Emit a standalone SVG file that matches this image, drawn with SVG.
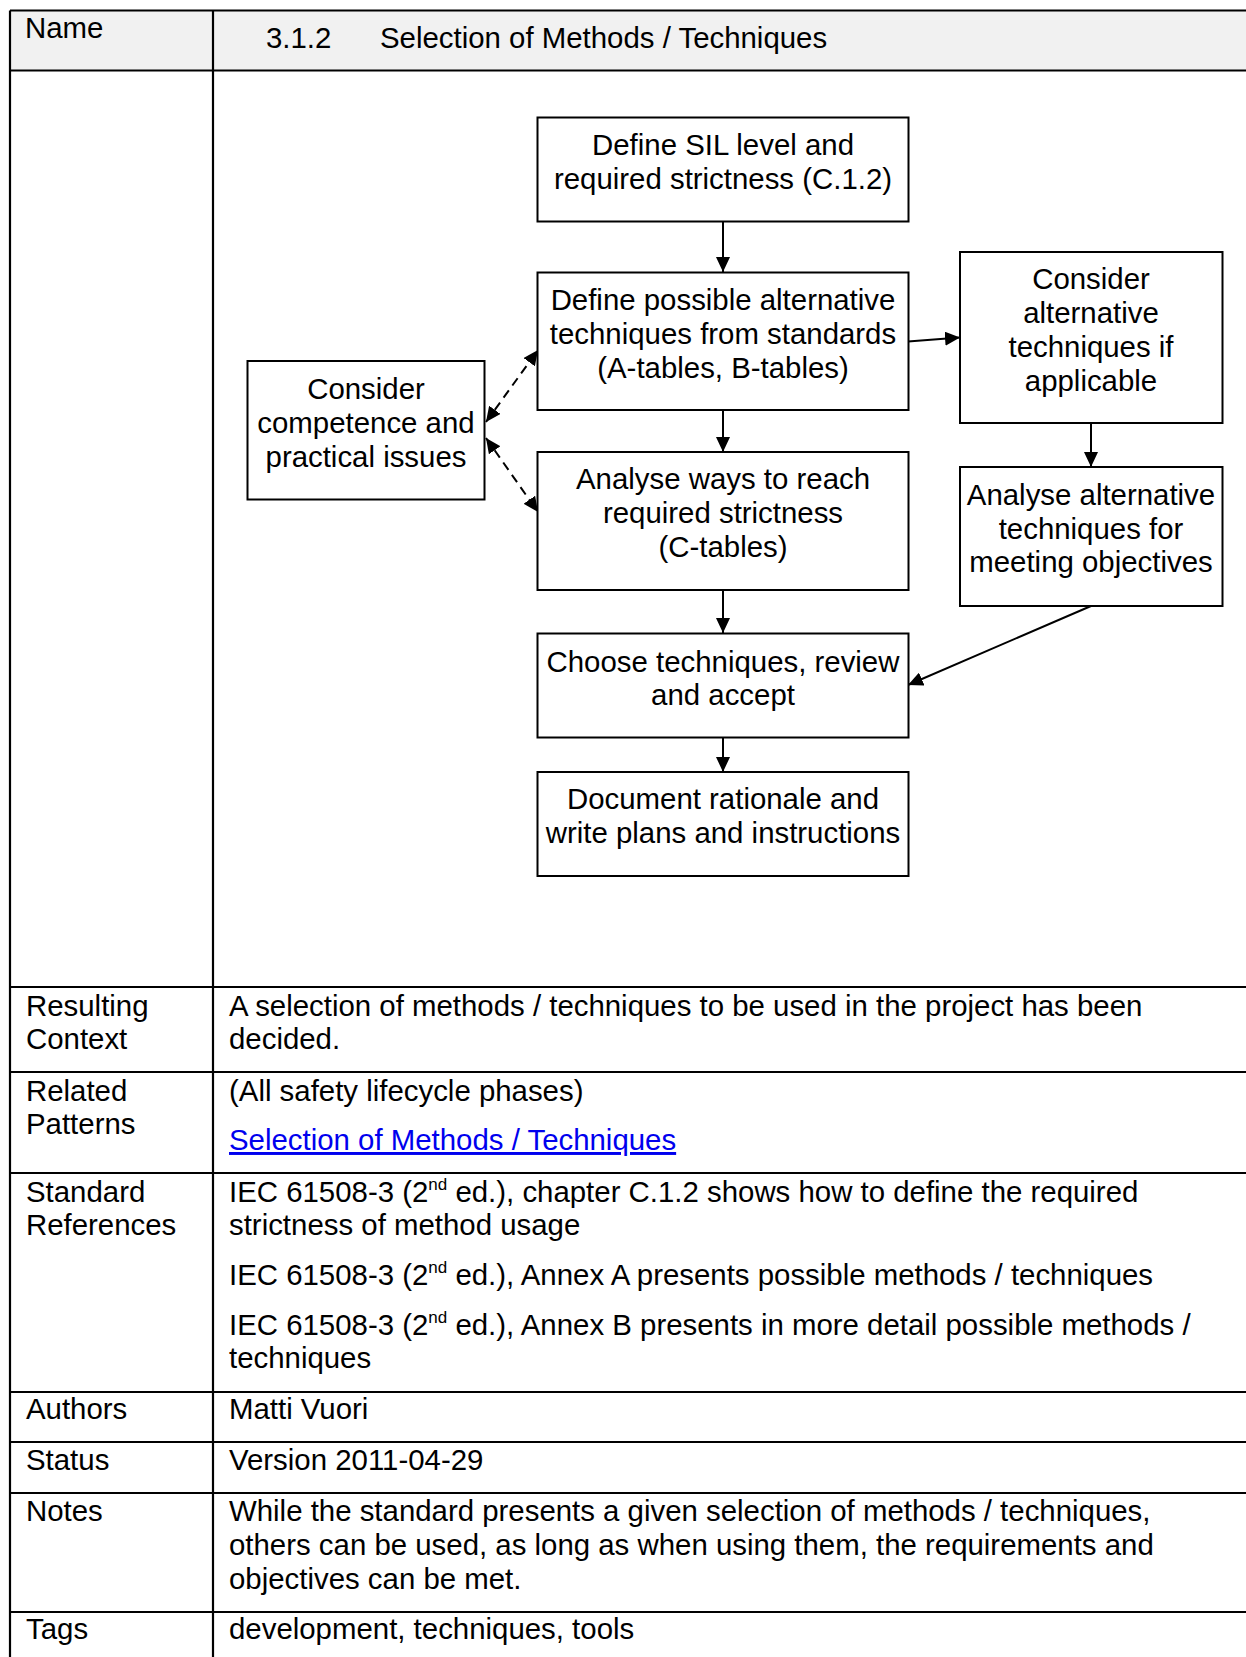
<svg xmlns="http://www.w3.org/2000/svg" width="1246" height="1657" viewBox="0 0 1246 1657">
  <style>
    text { font-family: "Liberation Sans", Arial, sans-serif; font-size: 29.4px; fill: #000; }
    .c { text-anchor: middle; }
    .sup { font-size: 17px; }
    .link { fill: #0000ee; }
    .grid { stroke: #000; stroke-width: 2.2; fill: none; }
    .box { fill: #fff; stroke: #000; stroke-width: 2; }
    .edge { stroke: #000; stroke-width: 2; fill: none; }
    .dash { stroke-dasharray: 9 6; }
  </style>
  <defs>
    <marker id="arrow" viewBox="0 0 15 14" refX="15" refY="7" markerWidth="15" markerHeight="14" markerUnits="userSpaceOnUse" orient="auto-start-reverse">
      <path d="M0,0 L15,7 L0,14 Z" fill="#000"/>
    </marker>
  </defs>

  <rect width="1246" height="1657" fill="#fff"/>

  <!-- table frame -->
  <g id="table">
    <rect x="10" y="10.5" width="1240" height="60" fill="#f1f1f1"/>
    <path class="grid" d="M10,10.5 H1250 M10,70.5 H1250 M10,987 H1250 M10,1072 H1250 M10,1173 H1250 M10,1392 H1250 M10,1442 H1250 M10,1493 H1250 M10,1612 H1250 M10,10.5 V1660 M213,10.5 V1660"/>
  </g>

  <!-- row labels -->
  <g id="labels">
    <text x="25" y="38">Name</text>
    <text x="26" y="1016">Resulting</text>
    <text x="26" y="1049">Context</text>
    <text x="26" y="1101">Related</text>
    <text x="26" y="1134">Patterns</text>
    <text x="26" y="1202">Standard</text>
    <text x="26" y="1235">References</text>
    <text x="26" y="1419">Authors</text>
    <text x="26" y="1470">Status</text>
    <text x="26" y="1521">Notes</text>
    <text x="26" y="1639">Tags</text>
  </g>

  <!-- row contents -->
  <g id="contents">
    <text x="266" y="48">3.1.2</text>
    <text x="380" y="48">Selection of Methods / Techniques</text>

    <text x="229" y="1016">A selection of methods / techniques to be used in the project has been</text>
    <text x="229" y="1049">decided.</text>

    <text x="229" y="1101">(All safety lifecycle phases)</text>
    <text x="229" y="1150" class="link" text-decoration="underline">Selection of Methods / Techniques</text>

    <text x="229" y="1202">IEC 61508-3 (2<tspan class="sup" dy="-12">nd</tspan><tspan dy="12"> ed.), chapter C.1.2 shows how to define the required</tspan></text>
    <text x="229" y="1235">strictness of method usage</text>
    <text x="229" y="1285">IEC 61508-3 (2<tspan class="sup" dy="-12">nd</tspan><tspan dy="12"> ed.), Annex A presents possible methods / techniques</tspan></text>
    <text x="229" y="1335">IEC 61508-3 (2<tspan class="sup" dy="-12">nd</tspan><tspan dy="12"> ed.), Annex B presents in more detail possible methods /</tspan></text>
    <text x="229" y="1368">techniques</text>

    <text x="229" y="1419">Matti Vuori</text>
    <text x="229" y="1470">Version 2011-04-29</text>

    <text x="229" y="1521">While the standard presents a given selection of methods / techniques,</text>
    <text x="229" y="1555">others can be used, as long as when using them, the requirements and</text>
    <text x="229" y="1589">objectives can be met.</text>

    <text x="229" y="1639">development, techniques, tools</text>
  </g>

  <!-- flowchart connectors -->
  <g id="connectors">
    <line class="edge" x1="723" y1="222" x2="723" y2="272" marker-end="url(#arrow)"/>
    <line class="edge" x1="723" y1="410" x2="723" y2="452" marker-end="url(#arrow)"/>
    <line class="edge" x1="723" y1="590" x2="723" y2="633" marker-end="url(#arrow)"/>
    <line class="edge" x1="723" y1="737" x2="723" y2="772" marker-end="url(#arrow)"/>
    <line class="edge" x1="908" y1="341.5" x2="960" y2="337.5" marker-end="url(#arrow)"/>
    <line class="edge" x1="1091" y1="423" x2="1091" y2="467" marker-end="url(#arrow)"/>
    <line class="edge" x1="1091" y1="606" x2="908" y2="685" marker-end="url(#arrow)"/>
    <line class="edge dash" x1="486" y1="422" x2="538" y2="350" marker-start="url(#arrow)" marker-end="url(#arrow)"/>
    <line class="edge dash" x1="486" y1="438" x2="538" y2="512" marker-start="url(#arrow)" marker-end="url(#arrow)"/>
  </g>

  <!-- flowchart steps -->
  <g id="define-sil">
    <rect class="box" x="537.5" y="117.5" width="371" height="104"/>
    <text class="c" x="723" y="155">Define SIL level and</text>
    <text class="c" x="723" y="189">required strictness (C.1.2)</text>
  </g>
  <g id="define-alternatives">
    <rect class="box" x="537.5" y="272.5" width="371" height="137.5"/>
    <text class="c" x="723" y="310">Define possible alternative</text>
    <text class="c" x="723" y="344">techniques from standards</text>
    <text class="c" x="723" y="378">(A-tables, B-tables)</text>
  </g>
  <g id="analyse-ways">
    <rect class="box" x="537.5" y="452" width="371" height="138"/>
    <text class="c" x="723" y="489">Analyse ways to reach</text>
    <text class="c" x="723" y="523">required strictness</text>
    <text class="c" x="723" y="557">(C-tables)</text>
  </g>
  <g id="choose-techniques">
    <rect class="box" x="537.5" y="633.5" width="371" height="104"/>
    <text class="c" x="723" y="672">Choose techniques, review</text>
    <text class="c" x="723" y="705">and accept</text>
  </g>
  <g id="document-rationale">
    <rect class="box" x="537.5" y="772" width="371" height="104"/>
    <text class="c" x="723" y="809">Document rationale and</text>
    <text class="c" x="723" y="843">write plans and instructions</text>
  </g>
  <g id="competence">
    <rect class="box" x="247.5" y="361" width="237" height="138.5"/>
    <text class="c" x="366" y="399">Consider</text>
    <text class="c" x="366" y="433">competence and</text>
    <text class="c" x="366" y="467">practical issues</text>
  </g>
  <g id="consider-alternatives">
    <rect class="box" x="960" y="252" width="262.5" height="171"/>
    <text class="c" x="1091" y="289">Consider</text>
    <text class="c" x="1091" y="323">alternative</text>
    <text class="c" x="1091" y="357">techniques if</text>
    <text class="c" x="1091" y="391">applicable</text>
  </g>
  <g id="analyse-alternatives">
    <rect class="box" x="960" y="467" width="262.5" height="139"/>
    <text class="c" x="1091" y="505">Analyse alternative</text>
    <text class="c" x="1091" y="539">techniques for</text>
    <text class="c" x="1091" y="572">meeting objectives</text>
  </g>
</svg>
